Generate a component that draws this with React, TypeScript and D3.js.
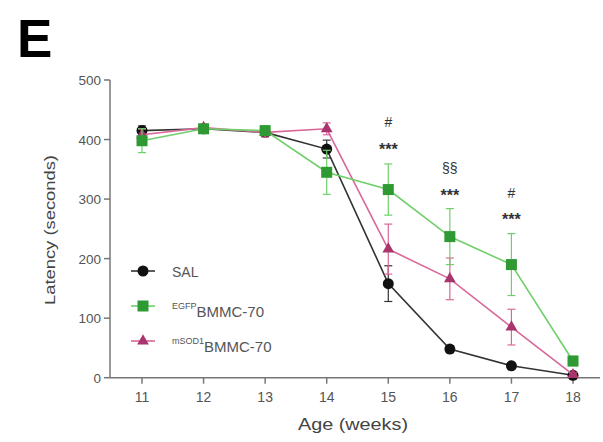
import React from "react";
import * as d3 from "d3";

const weeks = [11, 12, 13, 14, 15, 16, 17, 18];
const salMean = [415, 418, 412, 384, 158, 48, 20, 4];
const salErr = [8, 6, 6, 15, 30, 6, 5, 3];
const gfpMean = [398, 418, 415, 345, 316, 237, 190, 28];
const gfpErr = [20, 6, 8, 37, 43, 47, 52, 8];
const msodMean = [408, 420, 412, 418, 216, 166, 85, 5];
const msodErr = [10, 6, 8, 10, 42, 35, 30, 3];
const yTicks = [0, 100, 200, 300, 400, 500];
const annotations = [
  { week: 15, top: "#", bottom: "***", topV: 430, botV: 388 },
  { week: 16, top: "§§", bottom: "***", topV: 353, botV: 310 },
  { week: 17, top: "#", bottom: "***", topV: 310, botV: 270 },
];

const W = 603, H = 442;
const x = d3.scaleLinear().domain([11, 18]).range([142, 573]);
const y = d3.scaleLinear().domain([0, 500]).range([377.7, 80]);

const series = [
  { name: "SAL", sup: "", mean: salMean, err: salErr, line: "#333", fill: "#111", shape: "circle" },
  { name: "BMMC-70", sup: "EGFP", mean: gfpMean, err: gfpErr, line: "#6fcf6a", fill: "#2f9a34", shape: "square" },
  { name: "BMMC-70", sup: "mSOD1", mean: msodMean, err: msodErr, line: "#d9689a", fill: "#a8356c", shape: "triangle" },
];

function Marker({ shape, cx, cy, fill }: any) {
  if (shape === "circle") return <circle cx={cx} cy={cy} r={5.5} fill={fill} />;
  if (shape === "square") return <rect x={cx - 5.5} y={cy - 5.5} width={11} height={11} fill={fill} />;
  const p = d3.symbol().type(d3.symbolTriangle).size(60)();
  return <path d={p as string} transform={`translate(${cx},${cy})`} fill={fill} />;
}

export default function App() {
  const line = d3.line<number>().x((_, i) => x(weeks[i])).y((v) => y(v));
  const axisColor = "#777";
  const font = "Liberation Sans, Arial, sans-serif";
  const order = [0, 2, 1];
  return (
    <svg width={W} height={H} style={{ position: "absolute", left: 0, top: 0, background: "#fff" }} fontFamily={font}>
      <text x={17} y={57} fontSize={53} fontWeight="bold" fill="#000">E</text>
      {/* axes */}
      <line x1={110} x2={110} y1={y(500)} y2={y(0)} stroke={axisColor} strokeWidth={1.5} />
      <line x1={110} x2={600} y1={y(0)} y2={y(0)} stroke={axisColor} strokeWidth={1.5} />
      {yTicks.map((t) => (
        <g key={t}>
          <line x1={104} x2={110} y1={y(t)} y2={y(t)} stroke={axisColor} strokeWidth={1.5} />
          <text x={101} y={y(t) + 5} fontSize={13.5} textAnchor="end" fill="#555">{t}</text>
        </g>
      ))}
      {weeks.map((w) => (
        <g key={w}>
          <line x1={x(w)} x2={x(w)} y1={y(0)} y2={y(0) + 6} stroke={axisColor} strokeWidth={1.5} />
          <text x={x(w)} y={402} fontSize={14} textAnchor="middle" fill="#555">{w}</text>
        </g>
      ))}
      <text x={353} y={430} fontSize={16} textAnchor="middle" fill="#444" textLength={110} lengthAdjust="spacingAndGlyphs">Age (weeks)</text>
      <text transform={`translate(55,230) rotate(-90)`} fontSize={15} textAnchor="middle" fill="#444" textLength={150} lengthAdjust="spacingAndGlyphs">Latency (seconds)</text>
      {/* series */}
      {order.map((si) => {
        const s = series[si];
        return (
          <g key={si}>
            <path d={line(s.mean) as string} fill="none" stroke={s.line} strokeWidth={1.6} />
            {s.mean.map((m, i) => (
              <g key={i} stroke={s.line} strokeWidth={1.2}>
                <line x1={x(weeks[i])} x2={x(weeks[i])} y1={y(m - s.err[i])} y2={y(m + s.err[i])} />
                <line x1={x(weeks[i]) - 4} x2={x(weeks[i]) + 4} y1={y(m - s.err[i])} y2={y(m - s.err[i])} />
                <line x1={x(weeks[i]) - 4} x2={x(weeks[i]) + 4} y1={y(m + s.err[i])} y2={y(m + s.err[i])} />
              </g>
            ))}
            {s.mean.map((m, i) => (
              <Marker key={"m" + i} shape={s.shape} cx={x(weeks[i])} cy={y(m)} fill={s.fill} />
            ))}
          </g>
        );
      })}
      {annotations.map((a) => (
        <g key={a.week} fill="#333" textAnchor="middle">
          <text x={x(a.week)} y={y(a.topV) + 5} fontSize={14}>{a.top}</text>
          <text x={x(a.week)} y={y(a.botV) + 8} fontSize={16} fontWeight="bold">{a.bottom}</text>
        </g>
      ))}
      {/* legend */}
      {series.map((s, i) => {
        const ly = 271 + i * 35;
        return (
          <g key={"l" + i}>
            <line x1={131} x2={155} y1={ly} y2={ly} stroke={s.line} strokeWidth={1.6} />
            <Marker shape={s.shape} cx={143} cy={ly} fill={s.fill} />
            {s.sup ? (
              <text x={172} y={ly + 3} fontSize={9} fill="#555">
                <tspan>{s.sup}</tspan>
                <tspan fontSize={15} dy={8}>{s.name}</tspan>
              </text>
            ) : (
              <text x={172} y={ly + 6} fontSize={14} fill="#555">{s.name}</text>
            )}
          </g>
        );
      })}
    </svg>
  );
}
